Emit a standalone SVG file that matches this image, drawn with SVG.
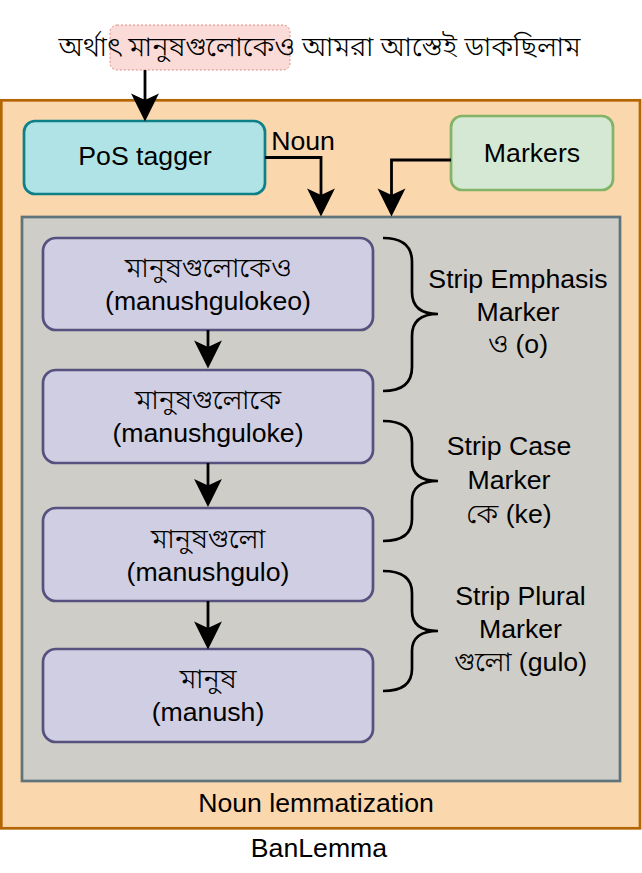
<svg xmlns="http://www.w3.org/2000/svg" width="642" height="873" viewBox="0 0 642 873">
<defs>
<style>
text{font-family:"Liberation Sans","Noto Sans Bengali","Noto Sans",Arial,sans-serif;font-size:26.67px;fill:#000;text-anchor:middle}
.bn{font-family:"Noto Sans Bengali","Noto Serif Bengali","Lohit Bengali","Noto Sans","Liberation Sans",sans-serif;font-weight:300;font-size:28px}
.wire{fill:none;stroke:#000;stroke-width:2.8}
.purple{fill:#d0cee2;stroke:#56517e;stroke-width:2.7}
.brace{fill:none;stroke:#000;stroke-width:2.7}
</style>
<marker id="arr" markerUnits="userSpaceOnUse" markerWidth="30" markerHeight="30" viewBox="0 -14 27 28" refX="20" refY="0" orient="auto">
<path d="M0,-13 L26,0 L0,13 L6,0 Z" fill="#000"/>
</marker>
</defs>
<g id="outer">
<rect x="1.3" y="100.3" width="638.7" height="728" fill="#fad7ac" stroke="#b46504" stroke-width="2.7"/>
<text x="316" y="812">Noun lemmatization</text>
</g>
<text id="title" x="319" y="857">BanLemma</text>
<g id="sentence">
<rect x="110" y="25" width="180" height="45" rx="7" fill="#fadbd7" stroke="#e28a85" stroke-width="1" stroke-dasharray="2 2"/>
<text class="bn" x="319.5" y="56">অর্থাৎ মানুষগুলোকেও আমরা আস্তেই ডাকছিলাম</text>
</g>
<g id="postagger">
<rect x="24" y="121" width="241" height="73" rx="11" fill="#b0e3e6" stroke="#0e8088" stroke-width="2.7"/>
<text x="145" y="165">PoS tagger</text>
</g>
<g id="markers">
<rect x="451" y="116" width="162" height="74" rx="11" fill="#d5e8d4" stroke="#82b366" stroke-width="2.7"/>
<text x="532" y="162">Markers</text>
</g>
<g id="lemmatizer">
<rect x="22" y="217" width="598" height="564" fill="#cfcdc8" stroke="#5f737b" stroke-width="2.7"/>
</g>
<g id="w1">
<rect class="purple" x="43" y="238" width="330" height="92" rx="13"/>
<text class="bn" x="208" y="277">মানুষগুলোকেও</text>
<text x="208" y="310">(manushgulokeo)</text>
</g>
<g id="w2">
<rect class="purple" x="43" y="370" width="330" height="93" rx="13"/>
<text class="bn" x="208" y="409">মানুষগুলোকে</text>
<text x="208" y="442">(manushguloke)</text>
</g>
<g id="w3">
<rect class="purple" x="43" y="508" width="330" height="93" rx="13"/>
<text class="bn" x="208" y="548">মানুষগুলো</text>
<text x="208" y="581">(manushgulo)</text>
</g>
<g id="w4">
<rect class="purple" x="43" y="649" width="330" height="93" rx="13"/>
<text class="bn" x="208" y="688">মানুষ</text>
<text x="208" y="721">(manush)</text>
</g>
<g id="strip-emphasis">
<path class="brace" d="M383,238 Q412,238 412,262 L412,292 Q412,314 438,314 Q412,314 412,336 L412,367 Q412,391 383,391"/>
<text x="518" y="288">Strip Emphasis</text>
<text x="518" y="321">Marker</text>
<text x="518" y="353"><tspan class="bn">ও</tspan> (o)</text>
</g>
<g id="strip-case">
<path class="brace" d="M383,421 Q412,421 412,443 L412,461 Q412,481 438,481 Q412,481 412,501 L412,519 Q412,541 383,541"/>
<text x="509" y="455">Strip Case</text>
<text x="509" y="489">Marker</text>
<text x="509" y="523"><tspan class="bn">কে</tspan> (ke)</text>
</g>
<g id="strip-plural">
<path class="brace" d="M383,571 Q412,571 412,593 L412,611 Q412,631 438,631 Q412,631 412,651 L412,669 Q412,691 383,691"/>
<text x="520.5" y="605">Strip Plural</text>
<text x="520.5" y="638">Marker</text>
<text x="520.5" y="671"><tspan class="bn">গুলো</tspan> (gulo)</text>
</g>
<g id="connectors">
<path class="wire" d="M145,70 L145,115" marker-end="url(#arr)"/>
<path class="wire" d="M265,157.5 L321,157.5 L321,210" marker-end="url(#arr)"/>
<text x="303" y="150">Noun</text>
<path class="wire" d="M451,160 L391.5,160 L391.5,210" marker-end="url(#arr)"/>
<path class="wire" d="M208,330 L208,362" marker-end="url(#arr)"/>
<path class="wire" d="M208,463 L208,500.5" marker-end="url(#arr)"/>
<path class="wire" d="M208,601 L208,643" marker-end="url(#arr)"/>
</g>
</svg>
